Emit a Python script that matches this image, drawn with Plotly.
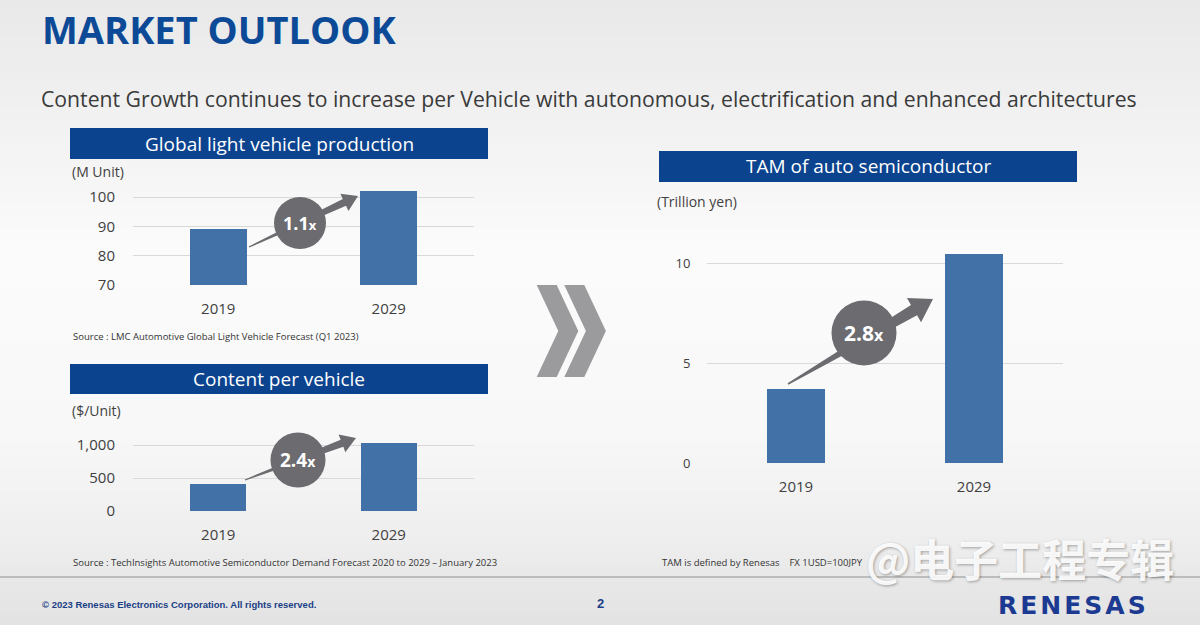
import plotly.graph_objects as go

W, H = 1200, 625

# ---------------- data ----------------
years = ["2019", "2029"]
production = [89, 102]        # M Unit
content = [410, 1030]         # $/Unit
tam = [3.7, 10.45]            # Trillion yen

prod_ticks = [70, 80, 90, 100]
content_ticks = [0, 500, 1000]
content_ticklabels = ["0", "500", "1,000"]
tam_ticks = [0, 5, 10]

growth_labels = ["1.1", "2.4", "2.8"]

# ---------------- styles ----------------
BAR = "#4271a8"
NAVY = "#0b438f"
TITLE_BLUE = "#0c4a97"
GRID = "#d9d9d9"
TICK = "#3f3f3f"
GRAYC = "#6c6c70"
FONT = "Open Sans"


def px(x):
    return x / W


def py(y):
    return 1 - y / H


fig = go.Figure()

fig.add_trace(go.Bar(x=years, y=production, xaxis="x", yaxis="y",
                     marker=dict(color=BAR, line=dict(width=0)), width=0.335,
                     hoverinfo="x+y"))
fig.add_trace(go.Bar(x=years, y=content, xaxis="x2", yaxis="y2",
                     marker=dict(color=BAR, line=dict(width=0)), width=0.33,
                     hoverinfo="x+y"))
fig.add_trace(go.Bar(x=years, y=tam, xaxis="x3", yaxis="y3",
                     marker=dict(color=BAR, line=dict(width=0)), width=0.33,
                     hoverinfo="x+y"))

inv = "rgba(0,0,0,0)"


def xax(dom, anchor, standoff):
    return dict(domain=[px(dom[0]), px(dom[1])], anchor=anchor, type="category",
                range=[-0.5, 1.5], showgrid=False, showline=False, zeroline=False,
                ticks="outside", ticklen=standoff, tickcolor=inv, automargin=False,
                tickfont=dict(family=FONT, size=15, color=TICK), fixedrange=True)


def yax(dom, anchor, rng, tv, tt=None, size=15, standoff=14):
    d = dict(domain=[py(dom[1]), py(dom[0])], anchor=anchor, range=rng,
             tickvals=tv, showgrid=True, gridcolor=GRID, gridwidth=1,
             showline=False, zeroline=False, ticks="outside", ticklen=standoff,
             tickcolor=inv, tickfont=dict(family=FONT, size=size, color=TICK),
             fixedrange=True, automargin=False)
    if tt is not None:
        d["ticktext"] = tt
    return d


# ---------------- background gradient ----------------
stops = [(0, 233), (130, 242), (250, 251), (430, 248), (540, 238), (577, 232), (625, 227)]


def gray_at(y):
    for (y0, c0), (y1, c1) in zip(stops[:-1], stops[1:]):
        if y0 <= y <= y1:
            t = (y - y0) / (y1 - y0)
            return round(c0 + (c1 - c0) * t)
    return stops[-1][1]


shapes = []
step = 6
y = 0
while y < H:
    g = gray_at(y + step / 2)
    shapes.append(dict(type="rect", xref="paper", yref="paper", layer="below",
                       x0=0, x1=1, y0=py(min(y + step, H)) - 0.002, y1=py(y),
                       fillcolor=f"rgb({g},{g},{g})", line=dict(width=0)))
    y += step

# separator line
shapes.append(dict(type="line", xref="paper", yref="paper", x0=0, x1=1,
                   y0=py(577), y1=py(577), line=dict(color="#bcbcbc", width=2)))

# header bars
headers = [((70, 488, 128, 159), "Global light vehicle production"),
           ((70, 488, 364, 394), "Content per vehicle"),
           ((659, 1077, 151, 182), "TAM of auto semiconductor")]
annotations = []
for (x0, x1, y0, y1), txt in headers:
    shapes.append(dict(type="rect", xref="paper", yref="paper",
                       x0=px(x0), x1=px(x1), y0=py(y1), y1=py(y0),
                       fillcolor=NAVY, line=dict(width=0)))
    annotations.append(dict(x=px((x0 + x1) / 2), y=py((y0 + y1) / 2), xref="paper",
                            yref="paper", text=txt, showarrow=False,
                            xanchor="center", yanchor="middle",
                            font=dict(family=FONT, size=19, color="white")))


# growth arrows
def arrow_path(tail, head, tail_hw, shaft_hw, head_len, head_hw):
    (tx, ty), (hx, hy) = tail, head
    dx, dy = hx - tx, hy - ty
    L = (dx * dx + dy * dy) ** 0.5
    ux, uy = dx / L, dy / L
    nx, ny = -uy, ux
    bx, by = hx - ux * head_len, hy - uy * head_len
    pts = [(tx + nx * tail_hw, ty + ny * tail_hw),
           (bx + nx * shaft_hw, by + ny * shaft_hw),
           (bx + nx * head_hw, by + ny * head_hw),
           (hx, hy),
           (bx - nx * head_hw, by - ny * head_hw),
           (bx - nx * shaft_hw, by - ny * shaft_hw),
           (tx - nx * tail_hw, ty - ny * tail_hw)]
    return "M " + " L ".join(f"{px(a):.5f},{py(b):.5f}" for a, b in pts) + " Z"


growth = [  # tail, head, tail_hw, shaft_hw, head_len, head_hw, circle center, r, font
    ((249, 247), (358, 196), 0.6, 3.8, 15, 9.5, (300, 223), 26, 18),
    ((245, 480), (356, 438), 0.6, 3.8, 15, 9.5, (298, 460), 27.5, 19),
    ((788, 384), (933, 299), 0.8, 6.0, 22, 14, (864, 333), 32.5, 21),
]
for (tail, head, thw, shw, hl, hhw, (cx, cy), r, fs), lab in zip(growth, growth_labels):
    shapes.append(dict(type="path", xref="paper", yref="paper",
                       path=arrow_path(tail, head, thw, shw, hl, hhw),
                       fillcolor=GRAYC, line=dict(width=0)))
    shapes.append(dict(type="circle", xref="paper", yref="paper",
                       x0=px(cx - r), x1=px(cx + r), y0=py(cy + r), y1=py(cy - r),
                       fillcolor=GRAYC, line=dict(width=0)))
    annotations.append(dict(x=px(cx), y=py(cy), xref="paper", yref="paper",
                            showarrow=False, xanchor="center", yanchor="middle",
                            text=f"<b>{lab}</b><span style='font-size:{fs - 5}px'><b>x</b></span>",
                            font=dict(family=FONT, size=fs, color="white")))

# chevrons
def chevron(x0):
    pts = [(x0, 285), (x0 + 20, 285), (x0 + 41.6, 331), (x0 + 20, 377),
           (x0, 377), (x0 + 21.6, 331)]
    return "M " + " L ".join(f"{px(a):.5f},{py(b):.5f}" for a, b in pts) + " Z"


for x0 in (536.7, 564.3):
    shapes.append(dict(type="path", xref="paper", yref="paper", path=chevron(x0),
                       fillcolor="#9b9b9e", line=dict(width=0)))


def txt(x, y, s, size, color="#333333", anchor="left", family=FONT, **kw):
    d = dict(x=px(x), y=py(y), xref="paper", yref="paper", text=s, showarrow=False,
             xanchor=anchor, yanchor="middle",
             font=dict(family=family, size=size, color=color))
    d.update(kw)
    annotations.append(d)


txt(40, 29, "<b>MARKET OUTLOOK</b>", 38, TITLE_BLUE)
txt(39, 98, "Content Growth continues to increase per Vehicle with autonomous, "
            "electrification and enhanced architectures", 21.2, "#3a3a3a")
txt(70, 171, "(M Unit)", 14, "#3f3f3f")
txt(70, 410, "($/Unit)", 14, "#3f3f3f")
txt(655, 202, "(Trillion yen)", 14, "#3f3f3f")
txt(71, 336, "Source : LMC Automotive Global Light Vehicle Forecast (Q1 2023)", 9.5)
txt(71, 562, "Source : TechInsights Automotive Semiconductor Demand Forecast 2020 to 2029 – January 2023", 9.5)
txt(660, 562, "TAM is defined by Renesas    FX 1USD=100JPY", 9.5)
txt(40, 604, "<b>© 2023 Renesas Electronics Corporation. All rights reserved.</b>", 9.5,
    "#1a3f85", family="Liberation Sans")
txt(600, 603, "<b>2</b>", 13, "#1a3f85", anchor="center", family="Liberation Sans")
txt(1073, 605, "<b><span style='letter-spacing:3px'>RENESAS</span></b>", 25, "#1c3a92",
    anchor="center", family="DejaVu Sans")
txt(1020, 558, "<b>@电子工程专辑</b>", 44, "rgba(255,255,255,0.93)", anchor="center",
    family="Noto Sans CJK SC")
annotations[-1]["font"]["shadow"] = "1px 1px 3px rgba(0,0,0,0.35)"

fig.update_layout(
    width=W, height=H, autosize=False,
    margin=dict(l=0, r=0, t=0, b=0, pad=0, autoexpand=False),
    paper_bgcolor="#ebebeb", plot_bgcolor="rgba(0,0,0,0)",
    showlegend=False, bargap=0,
    font=dict(family=FONT),
    xaxis=xax((133, 474), "y", 10),
    yaxis=yax((188.2, 285), "x", [70, 103], prod_ticks),
    xaxis2=xax((133, 474), "y2", 10),
    yaxis2=yax((438.4, 511), "x2", [0, 1100], content_ticks, content_ticklabels),
    xaxis3=xax((707, 1063), "y3", 10),
    yaxis3=yax((243, 463), "x3", [0, 11], tam_ticks, size=13, standoff=13),
    shapes=shapes,
    annotations=annotations,
)

fig.write_html("out.html", config={"displayModeBar": False})
